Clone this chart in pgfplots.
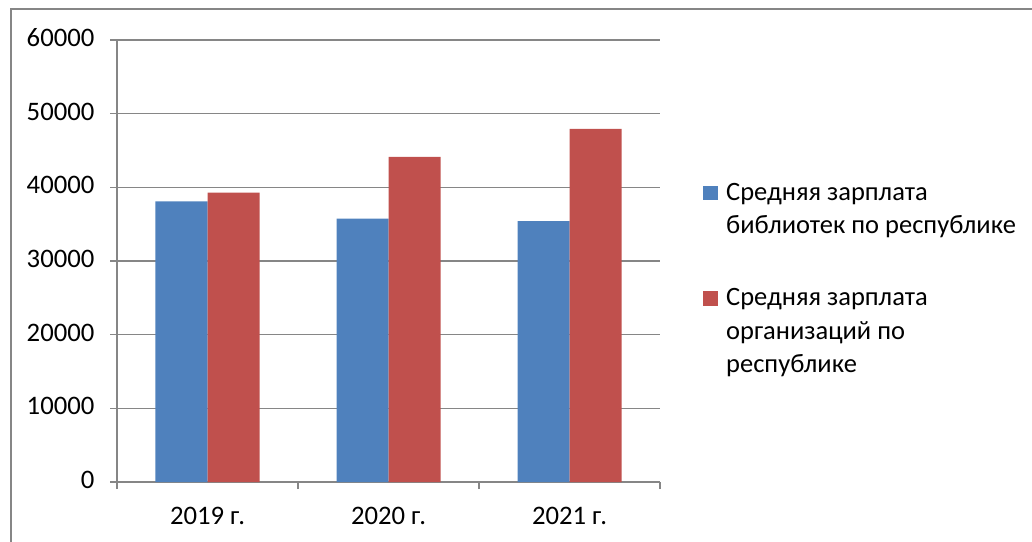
\documentclass[border=0pt]{standalone}
\usepackage{fontspec}
\setmainfont{Carlito}
\usepackage{pgfplots}
\pgfplotsset{compat=1.18}
\definecolor{barblue}{HTML}{4F81BD}
\definecolor{barred}{HTML}{C0504D}
\definecolor{gridgray}{HTML}{868686}

\begin{document}
\begin{tikzpicture}
\useasboundingbox (0,0) rectangle (516bp,271bp);
% outer chart frame (right and bottom edges lie off the page)
\draw[gridgray, line width=0.75bp] (5.5bp,-5bp) -- (5.5bp,266.5bp) -- (530bp,266.5bp);
\begin{axis}[
  at={(58.5bp,30bp)}, anchor=south west,
  scale only axis, width=271.5bp, height=221bp,
  xmin=-0.5, xmax=2.5, ymin=0, ymax=60000,
  ybar=0pt, bar width=26bp,
  axis x line*=bottom, axis y line*=left,
  axis line style={gridgray, line width=0.75bp},
  ymajorgrids, grid style={gridgray, line width=0.75bp},
  tick align=outside, major tick length=3.5bp,
  tick style={gridgray, line width=0.75bp},
  ytick={0,10000,...,60000}, scaled y ticks=false,
  /pgf/number format/1000 sep={},
  /pgf/number format/assume math mode=true,
  xtick={-0.5,0.5,1.5,2.5}, xticklabels={},
  extra x ticks={0,1,2},
  extra x tick labels={2019 г.,2020 г.,2021 г.},
  extra x tick style={major tick length=0pt},
  tick label style={font=\fontsize{13.4}{16}\selectfont, text=black},
  yticklabel style={anchor=east, inner sep=0pt, xshift=-7.6bp, yshift=1bp},
  xticklabel style={anchor=base, inner sep=0pt, yshift=-21.2bp},
  legend image code/.code={\fill[#1] (0bp,0bp) rectangle (7.5bp,7.3bp);},
  legend style={at={(1.0788,0.7005)}, anchor=north west, draw=none, fill=none,
    inner sep=0pt, row sep=35.7bp, column sep=2bp,
    cells={anchor=base west},
    font=\fontsize{13.3}{16.8}\selectfont},
]
\addplot[fill=barblue, draw=none] coordinates {(0,38100) (1,35750) (2,35420)};
\addlegendentry{\begin{tabular}[t]{@{}l@{}}Средняя зарплата\\библиотек по республике\end{tabular}}
\addplot[fill=barred, draw=none] coordinates {(0,39290) (1,44140) (2,47920)};
\addlegendentry{\begin{tabular}[t]{@{}l@{}}Средняя зарплата\\организаций по\\республике\end{tabular}}
\end{axis}
\end{tikzpicture}
\end{document}
